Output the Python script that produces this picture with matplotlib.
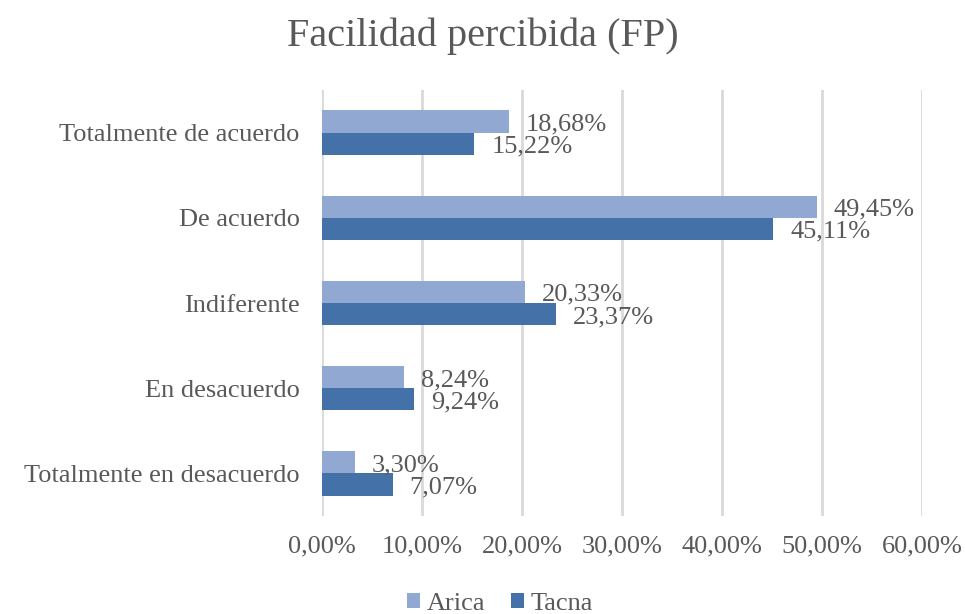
import numpy as np
import matplotlib.pyplot as plt
from matplotlib.ticker import FuncFormatter

plt.rcParams['font.family'] = ['Liberation Serif', 'DejaVu Serif']

categorias = ['Totalmente de acuerdo', 'De acuerdo', 'Indiferente',
              'En desacuerdo', 'Totalmente en desacuerdo']
arica = [18.68, 49.45, 20.33, 8.24, 3.30]
tacna = [15.22, 45.11, 23.37, 9.24, 7.07]
ticks = [0, 10, 20, 30, 40, 50, 60]

gris = '#595959'
c_arica = '#91a8d2'
c_tacna = '#4371a8'


def pct(v):
    return f'{v:.2f}'.replace('.', ',') + '%'


fig = plt.figure(figsize=(9.65, 6.14), dpi=100)
ax = fig.add_axes([322 / 965, 1 - 516 / 614, 600 / 965, 426 / 614])

y = np.arange(len(categorias))
h = 0.26
b1 = ax.barh(y - h / 2, arica, height=h, color=c_arica, label='Arica', zorder=3)
b2 = ax.barh(y + h / 2, tacna, height=h, color=c_tacna, label='Tacna', zorder=3)

# etiquetas de datos
for barras, vals in ((b1, arica), (b2, tacna)):
    for b, v in zip(barras, vals):
        ax.annotate(pct(v), (v, b.get_y() + b.get_height() / 2),
                    xytext=(17, -3), textcoords='offset pixels',
                    va='center', ha='left', fontsize=19, color=gris, zorder=4)

ax.set_xlim(0, 60)
ax.set_ylim(len(categorias) - 0.5, -0.5)
ax.set_xticks(ticks)
ax.xaxis.set_major_formatter(FuncFormatter(lambda v, p: pct(v)))
ax.set_yticks(y)
ax.set_yticklabels(categorias)
ax.tick_params(length=0, labelsize=19, colors=gris)
ax.tick_params(axis='x', pad=14)
ax.tick_params(axis='y', pad=16)
ax.grid(axis='x', color='#d9d9d9', linewidth=2, zorder=0)
for s in ax.spines.values():
    s.set_visible(False)

fig.text(0.5, 1 - 36 / 614, 'Facilidad percibida (FP)', ha='center', va='center',
         fontsize=29, color=gris)

fig.legend(handles=[b1, b2], loc='center', bbox_to_anchor=(500 / 965, 1 - 604 / 614),
           ncol=2, frameon=False, fontsize=19, labelcolor=gris,
           handlelength=0.5, handleheight=0.5, handletextpad=0.25, columnspacing=1.0)

fig.savefig('out.png', dpi=100)
